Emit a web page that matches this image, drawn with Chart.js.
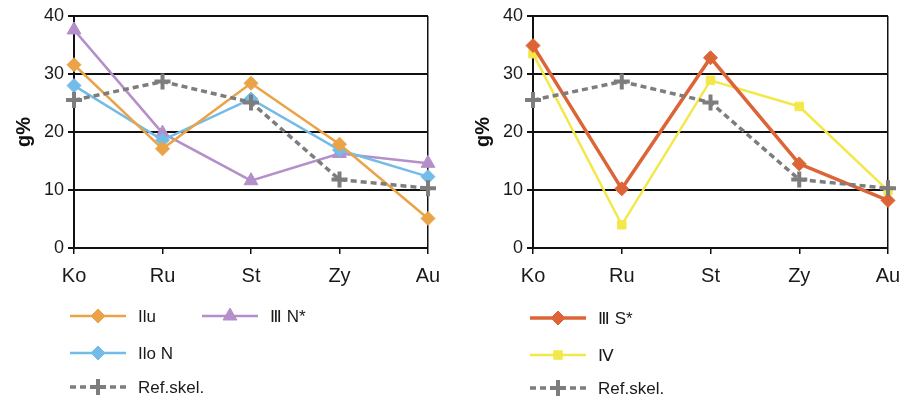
<!DOCTYPE html>
<html>
<head>
<meta charset="utf-8">
<title>g% profiles</title>
<script src="https://cdn.jsdelivr.net/npm/chart.js@4/dist/chart.umd.min.js"></script>
<style>
	body { margin: 0; background: #fff; }
	#wrap { display: flex; width: 917px; height: 399px; }
	canvas { display: block; }
</style>
</head>
<body>
<div id="wrap">
	<canvas id="left" width="460" height="399"></canvas>
	<canvas id="right" width="457" height="399"></canvas>
</div>
<script>
const categories = ['Ko', 'Ru', 'St', 'Zy', 'Au'];
const yTicks = [0, 10, 20, 30, 40];

// left panel
const ilu = [31.6, 17.1, 28.4, 17.9, 5.1];
const iloN = [28.0, 18.6, 25.7, 16.9, 12.3];
const iiiN = [37.6, 19.8, 11.6, 16.3, 14.6];
// right panel
const iiiS = [34.9, 10.2, 32.8, 14.5, 8.2];
const iv = [33.5, 4.0, 28.9, 24.4, 9.9];
// shared reference line
const refSkel = [25.5, 28.7, 25.1, 11.8, 10.3];

const FONT = "'Liberation Sans', Arial, sans-serif";

// legend laid out as a little grid under each plot
const gridLegend = {
	id: 'gridLegend',
	afterDraw(chart, args, opts) {
		const ctx = chart.ctx;
		ctx.save();
		opts.items.forEach((pos, i) => {
			if (!pos) return;
			const ds = chart.data.datasets[i];
			const x0 = pos.x, x1 = pos.x + 56, y = pos.y;
			ctx.strokeStyle = ds.borderColor;
			ctx.fillStyle = ds.borderColor;
			ctx.lineWidth = ds.borderWidth;
			ctx.setLineDash(ds.borderDash || []);
			ctx.beginPath();
			ctx.moveTo(x0, y);
			ctx.lineTo(x1, y);
			ctx.stroke();
			ctx.setLineDash([]);
			ctx.lineWidth = ds.pointBorderWidth || 1;
			Chart.helpers.drawPoint(ctx, {
				pointStyle: ds.pointStyle,
				radius: ds.pointRadius,
				borderWidth: ds.pointBorderWidth || 1,
				rotation: 0
			}, (x0 + x1) / 2, y);
			ctx.fillStyle = '#1a1a1a';
			ctx.font = '17px ' + FONT;
			ctx.textBaseline = 'middle';
			ctx.fillText(ds.label, x1 + 12, y + 1);
		});
		ctx.restore();
	}
};

function lineSet(label, data, color, style, extra) {
	return Object.assign({
		label,
		data,
		borderColor: color,
		backgroundColor: color,
		pointBackgroundColor: color,
		pointBorderColor: color,
		borderWidth: 2.5,
		pointStyle: style,
		pointRadius: 7,
		pointBorderWidth: 1,
		tension: 0,
		fill: false
	}, extra || {});
}

function refSet() {
	return lineSet('Ref.skel.', refSkel, '#7d7d7d', 'cross', {
		borderWidth: 3.5,
		borderDash: [6, 4],
		pointRadius: 8,
		pointBorderWidth: 4
	});
}

function makeChart(id, datasets, legendItems, padding) {
	return new Chart(document.getElementById(id), {
		type: 'line',
		data: { labels: categories, datasets },
		plugins: [gridLegend],
		options: {
			responsive: false,
			devicePixelRatio: 1,
			animation: false,
			layout: { padding },
			plugins: {
				legend: { display: false },
				tooltip: { enabled: false },
				gridLegend: { items: legendItems }
			},
			scales: {
				x: {
					offset: false,
					grid: {
						color: (c) => c.index === categories.length - 1 ? '#111' : 'transparent',
						tickColor: '#111',
						lineWidth: 1.5,
						tickLength: 6
					},
					border: { color: '#111', width: 2 },
					ticks: {
						color: '#1a1a1a',
						font: { family: FONT, size: 20 },
						padding: 10,
						maxRotation: 0,
						autoSkip: false
					}
				},
				y: {
					min: yTicks[0],
					max: yTicks[yTicks.length - 1],
					afterBuildTicks: (s) => { s.ticks = yTicks.map(v => ({ value: v })); },
					grid: { color: '#111', lineWidth: 2, tickLength: 6, tickColor: '#111' },
					border: { color: '#111', width: 2 },
					ticks: {
						color: '#1a1a1a',
						font: { family: FONT, size: 18 },
						padding: 4
					},
					title: {
						display: true,
						text: 'g%',
						color: '#111',
						font: { family: FONT, size: 20, weight: 'bold' },
						padding: 4
					}
				}
			}
		}
	});
}

makeChart('left', [
	lineSet('Ilu', ilu, '#eaa347', 'rectRot', { order: 1 }),
	lineSet('Ilo N', iloN, '#74bce8', 'rectRot', { order: 2 }),
	lineSet('Ⅲ N*', iiiN, '#b48fca', 'triangle', { pointRadius: 8, order: 3 }),
	refSet()
], [
	{ x: 70, y: 316 },
	{ x: 70, y: 353 },
	{ x: 202, y: 316 },
	{ x: 70, y: 387 }
], { left: 8, right: 32, top: 16, bottom: 101 });

makeChart('right', [
	lineSet('Ⅲ S*', iiiS, '#dc6437', 'rectRot', { borderWidth: 3.5, order: 1 }),
	lineSet('Ⅳ', iv, '#f3e84a', 'rect', { pointRadius: 6, order: 2 }),
	refSet()
], [
	{ x: 70, y: 318 },
	{ x: 70, y: 355 },
	{ x: 70, y: 388 }
], { left: 7, right: 29, top: 16, bottom: 101 });
</script>
</body>
</html>
